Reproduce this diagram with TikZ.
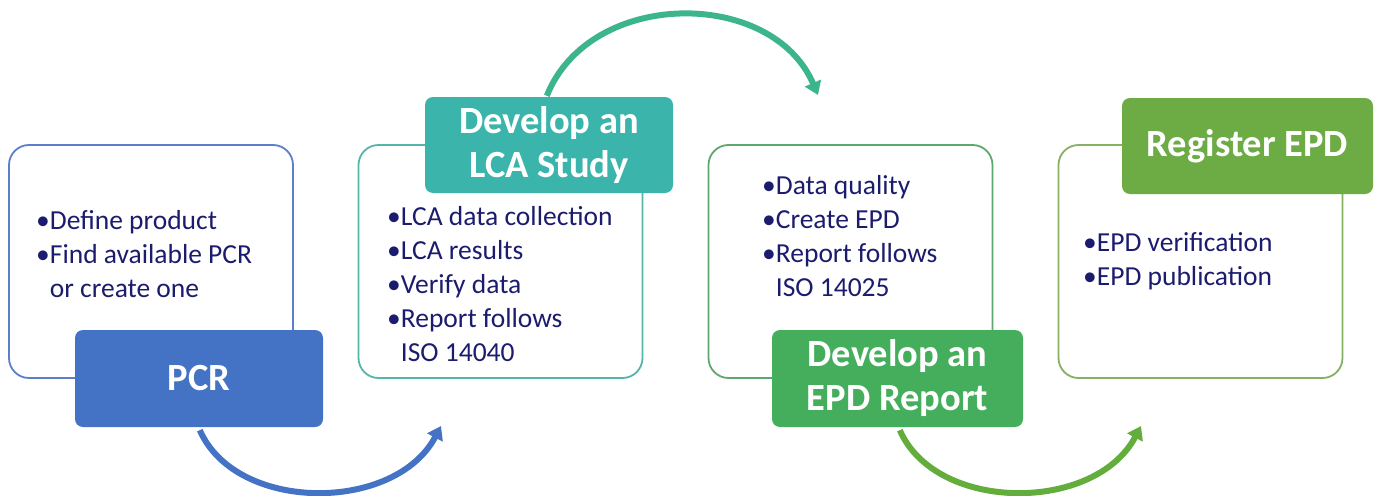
\documentclass[tikz,border=0pt]{standalone}
\usepackage{fontspec}
\setmainfont{Carlito}
\usetikzlibrary{arrows.meta}
\definecolor{pcrfill}{HTML}{4472C4}
\definecolor{pcrline}{HTML}{5B7FCB}
\definecolor{lcafill}{HTML}{3BB5AC}
\definecolor{lcaline}{HTML}{55B5A8}
\definecolor{repfill}{HTML}{45AE5C}
\definecolor{repline}{HTML}{5EA86E}
\definecolor{regfill}{HTML}{6DAB45}
\definecolor{regline}{HTML}{86B062}
\definecolor{arrblue}{HTML}{4472C4}
\definecolor{arrteal}{HTML}{3DB58C}
\definecolor{arrgreen}{HTML}{62AD3C}
\definecolor{txt}{HTML}{1C1C6E}
\tikzset{
  outline/.style={draw=#1, line width=1.8pt, fill=white, rounded corners=20pt,
    minimum width=284pt, minimum height=233pt, inner sep=0pt},
  head/.style={fill=#1, rounded corners=8pt, inner sep=0pt, text=white,
    font=\fontsize{38.5}{44}\selectfont\bfseries, align=center},
  bullets/.style={anchor=west, align=left, inner sep=0pt, text=txt,
    font=\fontsize{27.5}{34}\selectfont},
  flow/.style={draw=#1, line width=6pt, -{Triangle[length=13pt,width=17pt]}},
}
\begin{document}
\begin{tikzpicture}[x=1pt,y=-1pt]
\useasboundingbox (0,0) rectangle (1375,495);
% outline boxes
\node[outline=pcrline] (b1) at (151,261.5) {};
\node[outline=lcaline] (b2) at (500.5,261.5) {};
\node[outline=repline] (b3) at (850.5,261.5) {};
\node[outline=regline] (b4) at (1200.5,261.5) {};
% heading boxes
\node[head=pcrfill, minimum width=248pt, minimum height=97pt] (h1) at (199,378.5) {PCR};
\node[head=lcafill, minimum width=248pt, minimum height=96pt] (h2) at (549,145) {Develop an\\LCA Study};
\node[head=repfill, minimum width=251pt, minimum height=97pt] (h3) at (897.5,378.5) {Develop an\\EPD Report};
\node[head=regfill, minimum width=251pt, minimum height=96pt] (h4) at (1247.5,146) {Register EPD};
% bullet texts
\node[bullets] (t1) at (36,254) {•Define product\\•Find available PCR\\\hphantom{•}or create one};
\node[bullets] (t2) at (387,284) {•LCA data collection\\•LCA results\\•Verify data\\•Report follows\\\hphantom{•}ISO 14040};
\node[bullets] (t3) at (762,236) {•Data quality\\•Create EPD\\•Report follows\\\hphantom{•}ISO 14025};
\node[bullets] (t4) at (1083,261.5) {•EPD verification\\•EPD publication};
% arrows
\coordinate (a1e) at (441,426);
\coordinate (a2e) at (818,95);
\coordinate (a3e) at (1141,426);
\draw[flow=arrblue] (h1.south west) ++(125,3) .. controls (236,513) and (395,513) .. (a1e);
\draw[flow=arrteal] (h2.north west) ++(122,-1) .. controls (590,-12) and (772,-12) .. (a2e);
\draw[flow=arrgreen] (h3.south west) ++(128,3) .. controls (936,513) and (1095,513) .. (a3e);
\end{tikzpicture}
\end{document}
